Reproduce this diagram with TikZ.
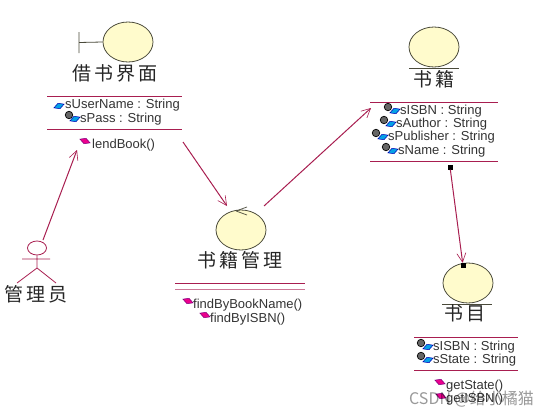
\documentclass[tikz,border=0pt]{standalone}
\usepackage{xcolor}
\usepackage{fontspec}
\setmainfont{Liberation Sans}
\newfontfamily\cjk{Noto Sans CJK SC}
\usetikzlibrary{arrows.meta, positioning, calc, shapes.geometric}
\definecolor{umlline}{HTML}{A81E50}
\definecolor{umlfill}{HTML}{FFFBCC}
\definecolor{umledge}{HTML}{4A4A3A}
\tikzset{
    classball/.style={ellipse, draw=umledge, fill=umlfill, line width=0.8, minimum width=50, minimum height=40, inner sep=0pt},
    cnlabel/.style={font=\fontsize{19}{19}\cjk, inner sep=0pt, text=black!85},
    member/.style={font=\fontsize{13}{14}\selectfont, inner sep=0pt, anchor=west, yshift=-1.5pt, text=black!80},
    divider/.style={draw=umlline, line width=0.8},
    link/.style={draw=umlline, line width=1, -{Straight Barb[length=9, width=9, line width=0.6]}},
    pubicon/.style={diamond, aspect=1.8, rotate=20, fill=cyan!90!blue, draw=blue!70!black, line width=0.5, minimum width=11, minimum height=6, inner sep=0pt},
    opicon/.style={diamond, aspect=1.8, rotate=-20, fill=magenta, draw=violet, line width=0.5, minimum width=11, minimum height=6, inner sep=0pt},
    lockicon/.style={circle, fill=black!60, draw=black, line width=0.7, minimum size=7.5, inner sep=0pt},
    endsquare/.style={rectangle, fill=black, minimum size=5, inner sep=0pt},
}
\begin{document}
\begin{tikzpicture}[x=1pt, y=-1pt]
    \useasboundingbox (0,0) rectangle (550,415);

    % borrowing screen
    \node[classball] (lendball) at (128,42) {};
    \draw[draw=umledge, line width=0.8] (79,32) -- (79,53) (79,42.5) -- (lendball.west);
    \node[cnlabel] (lendname) at (115,73) {借\hspace{3.3pt}书\hspace{3.3pt}界\hspace{3.3pt}面};
    \draw[divider] (47,96) -- (182,96) (47,129) -- (182,129);
    \node[pubicon] (lendpub) at (59,106) {};
    \node[member] (lenduser) at (65,104) {sUserName : String};
    \node[lockicon] (lendlock) at (69,115) {};
    \node[pubicon] (lendpriv) at (75,119) {};
    \node[member] (lendpass) at (80,118) {sPass : String};
    \node[opicon] (lendop) at (85,141) {};
    \node[member] (lendbook) at (92,144) {lendBook()};

    % book manager
    \node[classball] (manball) at (241,230) {};
    \draw[draw=umledge, line width=0.7] (236,211) -- (247,207) (236,211) -- (247,215);
    \node[cnlabel] (manname) at (240,260) {书\hspace{3.3pt}籍\hspace{3.3pt}管\hspace{3.3pt}理};
    \draw[divider] (175,283) -- (305,283);
    \draw[divider, umlline!60] (175,289) -- (305,289);
    \node[opicon] (manopa) at (188,301) {};
    \node[member] (manfinda) at (193,304) {findByBookName()};
    \node[opicon] (manopb) at (205,315) {};
    \node[member] (manfindb) at (210,318) {findByISBN()};

    % book
    \node[classball] (bookball) at (434,47) {};
    \draw[draw=umledge, line width=0.8] (409,68) -- (459,68);
    \node[cnlabel] (bookname) at (434,79) {书\hspace{4pt}籍};
    \draw[divider] (370,102) -- (498,102) (370,161) -- (498,161);
    \foreach \rowname/\rowx/\rowy/\rowtext in {isbn/400/110/sISBN : String, author/396/123/sAuthor : String,
        publisher/388/136/sPublisher : String, name/398/150/sName : String} {
        \node[lockicon] (book\rowname lock) at (\rowx-12,\rowy-3) {};
        \node[pubicon] (book\rowname pub) at (\rowx-5,\rowy+1) {};
        \node[member] (book\rowname) at (\rowx,\rowy) {\rowtext};
    }

    % catalogue
    \node[classball] (catball) at (468,283) {};
    \draw[draw=umledge, line width=0.8] (442,304) -- (492,304);
    \node[cnlabel] (catname) at (465,313) {书\hspace{4pt}目};
    \draw[divider] (414,337) -- (518,337) (414,370) -- (518,370);
    \foreach \rowname/\rowy/\rowtext in {isbn/346/sISBN : String, state/359/sState : String} {
        \node[lockicon] (cat\rowname lock) at (421,\rowy-3) {};
        \node[pubicon] (cat\rowname pub) at (428,\rowy+1) {};
        \node[member] (cat\rowname) at (433,\rowy) {\rowtext};
    }
    \node[opicon] (catopa) at (440,382) {};
    \node[member] (catstate) at (446,385) {getState()};
    \node[opicon] (catopb) at (441,396) {};
    \node[member] (catget) at (446,398) {getISBN()};

    % librarian
    \node[ellipse, draw=umlline, line width=0.8, fill=white, minimum width=19, minimum height=14, inner sep=0pt] (head) at (37,248) {};
    \coordinate (armL) at (22,259);
    \coordinate (armR) at (50,259);
    \coordinate (hip) at (37,268);
    \coordinate (footL) at (17,283);
    \coordinate (footR) at (56,283);
    \draw[draw=umlline, line width=0.8] (head) -- (hip) (armL) -- (armR) (footL) -- (hip) -- (footR);
    \node[cnlabel] (actorname) at (36,294) {管\hspace{3.3pt}理\hspace{3.3pt}员};

    % links
    \coordinate (lendin) at (77,150);
    \coordinate (actorout) at (43,240);
    \coordinate (lendout) at (183,142);
    \coordinate (manin) at (227,206);
    \coordinate (manout) at (264,206);
    \coordinate (bookin) at (371,108);
    \node[endsquare] (bookdot) at (450,167) {};
    \node[endsquare] (catdot) at (463,265.5) {};
    \draw[link] (actorout) -- (lendin);
    \draw[link] (lendout) -- (manin);
    \draw[link] (manout) -- (bookin);
    \draw[link] (bookdot) -- (catdot);

    \node[font=\fontsize{16}{16}\cjk, text=black, text opacity=0.4, inner sep=0pt, anchor=east] (mark) at (534,399) {CSDN @给小橘猫};
\end{tikzpicture}
\end{document}
